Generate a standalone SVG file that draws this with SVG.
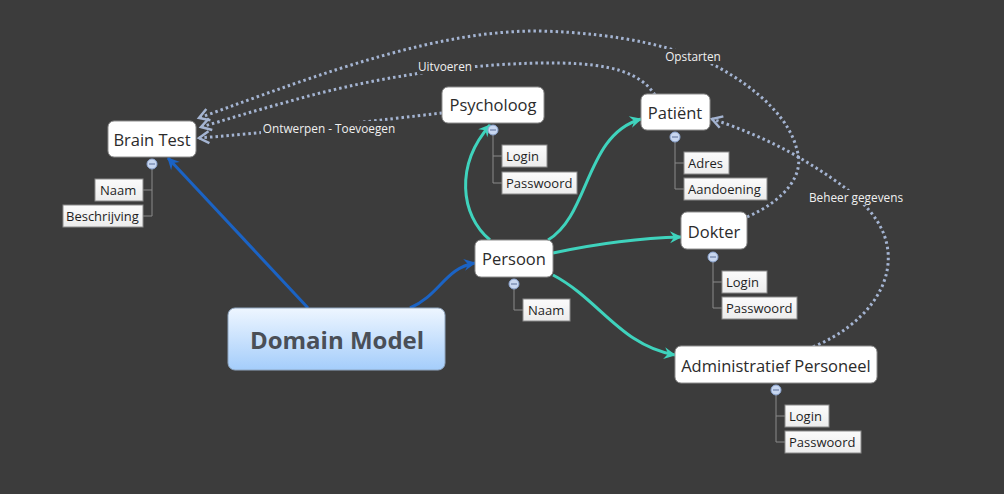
<svg xmlns="http://www.w3.org/2000/svg" width="1004" height="494" viewBox="0 0 1004 494">
<defs>
<style>
.bg{fill:#3c3c3c}
.topic{fill:#ffffff;stroke:#8e8e8e;stroke-width:1}
.ttext{font-family:"Open Sans","Noto Sans",sans-serif;font-size:16.5px;fill:#2b2b2b;text-anchor:middle;dominant-baseline:central}
.sub{fill:url(#subg);stroke:#8a8a8a;stroke-width:1}
.stext{font-family:"Open Sans","Noto Sans",sans-serif;font-size:13px;fill:#1e1e1e;dominant-baseline:central}
.tree{fill:none;stroke:#8a8a8a;stroke-width:1}
.col{fill:#c8d7f0;stroke:#8ca5d0;stroke-width:1}
.colm{stroke:#5a6f98;stroke-width:1}
.blue{fill:none;stroke:#1b63c4;stroke-width:3}
.teal{fill:none;stroke:#3fd3bd;stroke-width:3}
.dot{fill:none;stroke:#a4b4d2;stroke-width:3;stroke-dasharray:2.5 3}
.ltext{font-family:"Open Sans","Noto Sans",sans-serif;font-size:11.8px;fill:#f0f0f0;text-anchor:middle;dominant-baseline:central}
.lbg{fill:#3c3c3c}
</style>
<linearGradient id="dmg" x1="0" y1="0" x2="0" y2="1">
<stop offset="0" stop-color="#eef6ff"/>
<stop offset="1" stop-color="#a4cdfb"/>
</linearGradient>
<linearGradient id="subg" x1="0" y1="0" x2="0" y2="1">
<stop offset="0" stop-color="#fbfbfb"/>
<stop offset="1" stop-color="#ececec"/>
</linearGradient>
<marker id="ab" markerUnits="userSpaceOnUse" markerWidth="16" markerHeight="16" viewBox="0 0 16 16" refX="13" refY="8" orient="auto">
<path d="M2,2 L14,8 L2,14 L6,8 z" fill="#1b63c4"/>
</marker>
<marker id="at" markerUnits="userSpaceOnUse" markerWidth="16" markerHeight="16" viewBox="0 0 16 16" refX="13" refY="8" orient="auto">
<path d="M2,2 L14,8 L2,14 L6,8 z" fill="#3fd3bd"/>
</marker>
<marker id="ad" markerUnits="userSpaceOnUse" markerWidth="16" markerHeight="16" viewBox="0 0 16 16" refX="13" refY="8" orient="auto">
<path d="M3,2 L13,8 L3,14" fill="none" stroke="#a4b4d2" stroke-width="2.5"/>
</marker>
</defs>
<rect class="bg" x="0" y="0" width="1004" height="494"/>

<g id="connectors">
<path class="blue" d="M308,308 L168,158" marker-end="url(#ab)"/>
<path class="blue" d="M410,308 C440,295 445,268 475,263" marker-end="url(#ab)"/>
<path class="teal" d="M490,240 C460,215 455,165 490,125" marker-end="url(#at)"/>
<path class="teal" d="M548,240 C590,215 585,135 641,119" marker-end="url(#at)"/>
<path class="teal" d="M553,253 C600,243 640,238 681,237" marker-end="url(#at)"/>
<path class="teal" d="M553,275 C600,300 620,345 675,355" marker-end="url(#at)"/>
<path class="dot" d="M747,217 C785,200 805,175 797,150 C790,120 760,90 716,66 C680,48 620,33 540,31 C440,30 330,70 199,118" marker-end="url(#ad)"/>
<path class="dot" d="M655,95 C640,72 610,64 560,63 C480,62 380,75 287,102 C250,112 225,120 201,127" marker-end="url(#ad)"/>
<path class="dot" d="M442,113 C380,120 300,130 199,138" marker-end="url(#ad)"/>
<path class="dot" d="M813,347 C865,325 895,285 887,245 C880,210 845,185 800,158 C775,143 740,128 712,119" marker-end="url(#ad)"/>
<rect class="lbg" x="662" y="49" width="62" height="15"/>
<text class="ltext" x="693" y="56">Opstarten</text>
<rect class="lbg" x="417" y="59" width="56" height="15"/>
<text class="ltext" x="445" y="66">Uitvoeren</text>
<rect class="lbg" x="261" y="121" width="136" height="15"/>
<text class="ltext" x="329" y="128">Ontwerpen - Toevoegen</text>
<rect class="lbg" x="807" y="190" width="98" height="15"/>
<text class="ltext" x="856" y="197">Beheer gegevens</text>
</g>

<g id="domain-model">
<rect x="228" y="308" width="217" height="62" rx="7" fill="url(#dmg)" stroke="#8fa6c0" stroke-width="1"/>
<text x="337" y="339" font-family="'Open Sans','Noto Sans',sans-serif" font-size="24px" font-weight="bold" fill="#4a4f57" text-anchor="middle" dominant-baseline="central">Domain Model</text>
</g>

<g id="brain-test">
<rect class="topic" x="108" y="121" width="88" height="36" rx="6"/>
<text class="ttext" x="152" y="139">Brain Test</text>
<path class="tree" d="M152,169 V216 M152,190 H143 M152,216 H143"/>
<circle class="col" cx="152" cy="164" r="5"/><path class="colm" d="M149,164 H155"/>
<rect class="sub" x="95" y="179" width="48" height="22"/>
<text class="stext" x="100" y="190">Naam</text>
<rect class="sub" x="63" y="205" width="80" height="22"/>
<text class="stext" x="66" y="216">Beschrijving</text>
</g>

<g id="psycholoog">
<rect class="topic" x="442" y="87" width="102" height="36" rx="6"/>
<text class="ttext" x="493" y="104">Psycholoog</text>
<path class="tree" d="M493,135 V183 M493,156 H502 M493,183 H502"/>
<circle class="col" cx="493" cy="130" r="5"/><path class="colm" d="M490,130 H496"/>
<rect class="sub" x="502" y="145" width="45" height="22"/>
<text class="stext" x="506" y="156">Login</text>
<rect class="sub" x="502" y="172" width="75" height="22"/>
<text class="stext" x="506" y="183">Passwoord</text>
</g>

<g id="patient">
<rect class="topic" x="641" y="94" width="69" height="36" rx="6"/>
<text class="ttext" x="675" y="112">Patiënt</text>
<path class="tree" d="M675,142 V189 M675,163 H684 M675,189 H684"/>
<circle class="col" cx="675" cy="137" r="5"/><path class="colm" d="M672,137 H678"/>
<rect class="sub" x="684" y="152" width="45" height="22"/>
<text class="stext" x="688" y="163">Adres</text>
<rect class="sub" x="684" y="178" width="83" height="22"/>
<text class="stext" x="688" y="189">Aandoening</text>
</g>

<g id="persoon">
<rect class="topic" x="475" y="240" width="78" height="37" rx="6"/>
<text class="ttext" x="514" y="258">Persoon</text>
<path class="tree" d="M514,289 V310 H523"/>
<circle class="col" cx="514" cy="284" r="5"/><path class="colm" d="M511,284 H517"/>
<rect class="sub" x="523" y="299" width="47" height="22"/>
<text class="stext" x="528" y="310">Naam</text>
</g>

<g id="dokter">
<rect class="topic" x="681" y="212" width="66" height="37" rx="6"/>
<text class="ttext" x="714" y="231">Dokter</text>
<path class="tree" d="M713,262 V308 M713,282 H722 M713,308 H722"/>
<circle class="col" cx="713" cy="257" r="5"/><path class="colm" d="M710,257 H716"/>
<rect class="sub" x="722" y="271" width="45" height="22"/>
<text class="stext" x="726" y="282">Login</text>
<rect class="sub" x="722" y="297" width="75" height="22"/>
<text class="stext" x="726" y="308">Passwoord</text>
</g>

<g id="administratief-personeel">
<rect class="topic" x="675" y="346" width="202" height="37" rx="6"/>
<text class="ttext" x="776" y="365">Administratief Personeel</text>
<path class="tree" d="M776,395 V442 M776,416 H785 M776,442 H785"/>
<circle class="col" cx="776" cy="390" r="5"/><path class="colm" d="M773,390 H779"/>
<rect class="sub" x="785" y="405" width="44" height="22"/>
<text class="stext" x="789" y="416">Login</text>
<rect class="sub" x="785" y="431" width="76" height="22"/>
<text class="stext" x="789" y="442">Passwoord</text>
</g>
</svg>
